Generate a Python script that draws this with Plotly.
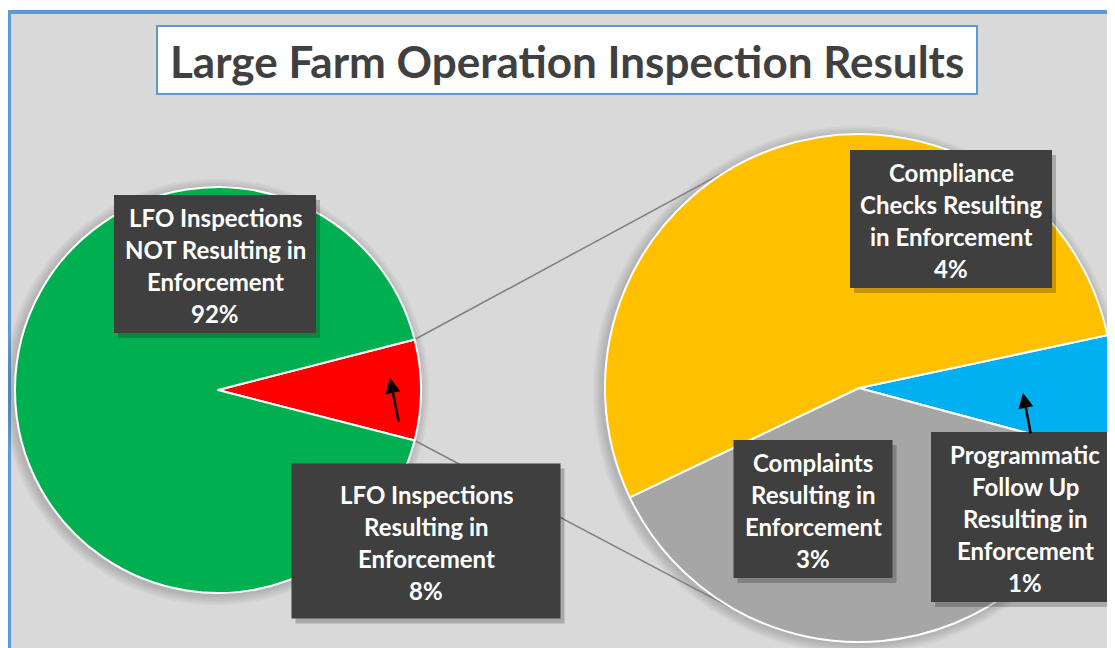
import math
import plotly.graph_objects as go

# the page body has an 8px margin, so the figure is made to fit inside it
OFF = 8
W, H = 1115 - OFF, 648 - OFF

# first pie: all LFO inspections
main_labels = ["LFO Inspections<br>Resulting in<br>Enforcement",
               "LFO Inspections<br>NOT Resulting in<br>Enforcement"]
main_values = [8, 92]
main_colors = ["#ff0000", "#00b050"]

# second pie: split of the inspections resulting in enforcement
sub_labels = ["Programmatic<br>Follow Up<br>Resulting in<br>Enforcement",
              "Complaints<br>Resulting in<br>Enforcement",
              "Compliance<br>Checks Resulting<br>in Enforcement"]
sub_values = [0.6, 3.1, 4.3]
sub_colors = ["#00b0f0", "#a6a6a6", "#ffc000"]

# pie placement in page pixels (cx, cy, r)
LEFT = (218, 390, 203)
RIGHT = (859, 388, 254)
SUB_ROTATION = 78

# label boxes in page pixels (cx, cy, w, h), same order as the values
main_boxes = [(426, 541, 269, 155), (215, 264, 202, 138)]
sub_boxes = [(1025, 517, 188, 170), (813, 509, 159, 138), (951, 219, 202, 138)]

BOX_COLOR = "#3f3f3f"
FONT = "Lato"


def px(x):
    return (x - OFF) / W


def py(y):
    return 1 - (y - OFF) / H


def domain(cx, cy, r):
    return dict(x=[px(cx - r), px(cx + r)], y=[py(cy + r), py(cy - r)])


main_rotation = 90 - 180 * main_values[0] / sum(main_values)

fig = go.Figure()
fig.add_trace(go.Pie(labels=main_labels, values=main_values, sort=False,
                     direction="clockwise", rotation=main_rotation,
                     marker=dict(colors=main_colors, line=dict(color="white", width=2)),
                     textinfo="none", hoverinfo="label+value", domain=domain(*LEFT)))
fig.add_trace(go.Pie(labels=sub_labels, values=sub_values, sort=False,
                     direction="clockwise", rotation=SUB_ROTATION,
                     marker=dict(colors=sub_colors, line=dict(color="white", width=2)),
                     textinfo="none", hoverinfo="label+value", domain=domain(*RIGHT)))

shapes = []
# panel
shapes.append(dict(type="rect", xref="paper", yref="paper", layer="below",
                   x0=px(9), x1=1.05, y0=-0.05, y1=py(12),
                   fillcolor="#d9d9d9", line=dict(color="#5b9bd5", width=4)))

# soft shadows behind the pies
for cx, cy, r in (LEFT, RIGHT):
    for k in range(1, 6):
        g = r + 2 * k
        shapes.append(dict(type="circle", xref="paper", yref="paper", layer="below",
                           x0=px(cx - g - 2), x1=px(cx + g - 2),
                           y0=py(cy + g + 2), y1=py(cy - g + 2),
                           fillcolor="rgba(0,0,0,0.035)", line=dict(width=0)))

# connector lines: from the red slice's outer corners, tangent to the second pie
lcx, lcy, lr = LEFT
rcx, rcy, rr = RIGHT
half = math.pi * main_values[0] / sum(main_values)
for sign in (-1, 1):
    p0x = lcx + lr * math.cos(half)
    p0y = lcy + sign * lr * math.sin(half)
    dx, dy = rcx - p0x, rcy - p0y
    d = math.hypot(dx, dy)
    th = math.atan2(dy, dx) + sign * math.asin(rr / d)
    L = math.sqrt(d * d - rr * rr)
    shapes.append(dict(type="line", xref="paper", yref="paper", layer="below",
                       x0=px(p0x), y0=py(p0y),
                       x1=px(p0x + L * math.cos(th)), y1=py(p0y + L * math.sin(th)),
                       line=dict(color="#7f7f7f", width=1.5)))

annotations = []

# title
shapes.append(dict(type="rect", xref="paper", yref="paper", layer="above",
                   x0=px(157), x1=px(977), y0=py(94), y1=py(26),
                   fillcolor="white", line=dict(color="#5b9bd5", width=2)))
annotations.append(dict(text="<b>Large Farm Operation Inspection Results</b>",
                        x=px(567), y=py(61), xref="paper", yref="paper",
                        xanchor="center", yanchor="middle", showarrow=False,
                        font=dict(family=FONT, size=44, color="#404040")))

# data label boxes
LINE_H = 32
for labels, values, boxes in ((main_labels, main_values, main_boxes),
                              (sub_labels, sub_values, sub_boxes)):
    for lab, val, (bx, by, bw, bh) in zip(labels, values, boxes):
        shapes.append(dict(type="rect", xref="paper", yref="paper", layer="above",
                           x0=px(bx - bw / 2 + 4), x1=px(bx + bw / 2 + 4),
                           y0=py(by + bh / 2 + 5), y1=py(by - bh / 2 + 5),
                           fillcolor="rgba(0,0,0,0.22)", line=dict(width=0)))
        shapes.append(dict(type="rect", xref="paper", yref="paper", layer="above",
                           x0=px(bx - bw / 2), x1=px(bx + bw / 2),
                           y0=py(by + bh / 2), y1=py(by - bh / 2),
                           fillcolor=BOX_COLOR, line=dict(width=0)))
        lines = lab.split("<br>") + [f"{val:.0f}%"]
        n = len(lines)
        for i, line in enumerate(lines):
            ly = by + 1.5 + (i - (n - 1) / 2) * LINE_H
            annotations.append(dict(text=f"<b>{line}</b>", x=px(bx), y=py(ly),
                                    xref="paper", yref="paper", xanchor="center",
                                    yanchor="middle", showarrow=False,
                                    font=dict(family=FONT, size=24, color="white")))

# leader arrows
for hx, hy, ax, ay in ((390, 378, 9, 45), (1023, 393, 8, 42)):
    annotations.append(dict(text="", x=px(hx), y=py(hy), xref="paper", yref="paper",
                            showarrow=True, ax=ax, ay=ay, arrowhead=2, arrowsize=1.2,
                            arrowwidth=2.5, arrowcolor="black", standoff=0))

fig.update_layout(width=W, height=H, margin=dict(l=0, r=0, t=0, b=0),
                  paper_bgcolor="white", showlegend=False,
                  shapes=shapes, annotations=annotations)

fig.write_html("out.html")
